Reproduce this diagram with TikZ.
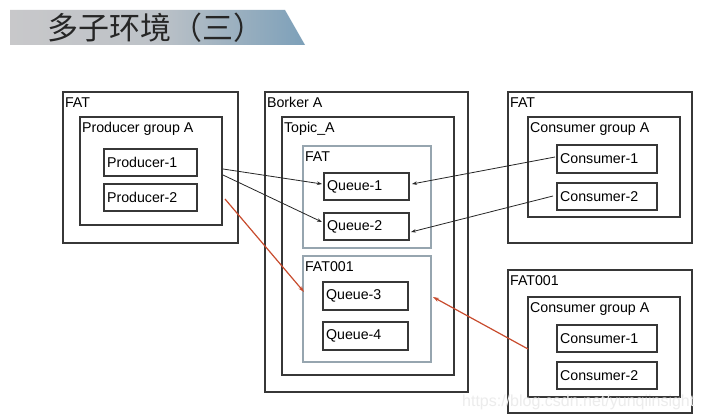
\documentclass[tikz,border=0pt]{standalone}
\usepackage{fontspec}
\setmainfont{Liberation Sans}
\newfontfamily\cjk{Noto Sans CJK SC}
\usetikzlibrary{fit,arrows.meta,calc}
\definecolor{boxc}{RGB}{55,55,55}
\definecolor{innerc}{RGB}{150,165,175}
\definecolor{redc}{RGB}{200,75,45}
\definecolor{bannerL}{RGB}{200,200,202}
\definecolor{bannerR}{RGB}{125,160,185}
\definecolor{wmark}{RGB}{236,236,236}
\tikzset{
  cont/.style={draw=boxc, line width=1.2pt, inner sep=0pt},
  inner/.style={draw=innerc, line width=1.2pt, inner sep=0pt},
  leaf/.style={draw=boxc, line width=1.2pt, inner sep=0pt},
  ttl/.style={anchor=north west, inner xsep=2.5pt, inner ysep=0pt, yshift=-6pt, font=\fontsize{14.2}{15}\selectfont},
  lt/.style={anchor=west, inner sep=3.5pt, font=\fontsize{14.2}{15}\selectfont},
  arr/.style={draw=black!85, line width=0.8pt, -{Stealth[length=5pt,width=3.5pt]}},
  rarr/.style={draw=redc, line width=1.2pt, -{Stealth[length=6pt,width=4pt]}}
}
\begin{document}
\begin{tikzpicture}[x=1pt,y=-1pt]
\useasboundingbox (0,0) rectangle (701,420);
\fill[white] (0,0) rectangle (701,420);
% banner
\shade[left color=bannerL, right color=bannerR, middle color=bannerL!85!bannerR] (10,10) -- (285,10) -- (305,45) -- (10,45) -- cycle;
\node[font=\cjk\fontsize{31}{33}\selectfont, text=black!85] (title) at (156,28) {多子环境（三）};
% left FAT
\node[cont, fit={(63,92) (238,243)}] (fatL) {};
\node[ttl] at (fatL.north west) {FAT};
\node[cont, fit={(80,117) (222,225)}] (pg) {};
\node[ttl] at (pg.north west) {Producer group A};
\node[leaf, fit={(104,149) (197,176)}] (p1) {};
\node[lt] at (p1.west) {Producer-1};
\node[leaf, fit={(104,184) (197,211)}] (p2) {};
\node[lt] at (p2.west) {Producer-2};
% Broker
\node[cont, fit={(265,92) (468,392)}] (brk) {};
\node[ttl] at (brk.north west) {Borker A};
\node[cont, fit={(282,117) (454,375)}] (topic) {};
\node[ttl] at (topic.north west) {Topic\_A};
\node[inner, fit={(303,146) (431,248)}] (fatQ) {};
\node[ttl] at (fatQ.north west) {FAT};
\node[leaf, fit={(324,173) (409,200)}] (q1) {};
\node[lt] at (q1.west) {Queue-1};
\node[leaf, fit={(324,213) (409,240)}] (q2) {};
\node[lt] at (q2.west) {Queue-2};
\node[inner, fit={(303,256) (431,362)}] (fatQB) {};
\node[ttl] at (fatQB.north west) {FAT001};
\node[leaf, fit={(323,282) (408,310)}] (q3) {};
\node[lt] at (q3.west) {Queue-3};
\node[leaf, fit={(323,322) (408,350)}] (q4) {};
\node[lt] at (q4.west) {Queue-4};
% right FAT
\node[cont, fit={(508,92) (692,243)}] (fatR) {};
\node[ttl] at (fatR.north west) {FAT};
\node[cont, fit={(528,117) (680,217)}] (cg) {};
\node[ttl] at (cg.north west) {Consumer group A};
\node[leaf, fit={(557,145) (657,173)}] (c1) {};
\node[lt] at (c1.west) {Consumer-1};
\node[leaf, fit={(557,183) (657,210)}] (c2) {};
\node[lt] at (c2.west) {Consumer-2};
% right FAT001
\node[cont, fit={(508,270) (692,413)}] (fatR2) {};
\node[ttl] at (fatR2.north west) {FAT001};
\node[cont, fit={(528,297) (680,397)}] (cgB) {};
\node[ttl] at (cgB.north west) {Consumer group A};
\node[leaf, fit={(557,325) (657,352)}] (cb1) {};
\node[lt] at (cb1.west) {Consumer-1};
\node[leaf, fit={(557,362) (657,389)}] (cb2) {};
\node[lt] at (cb2.west) {Consumer-2};
% watermark
\node[text=wmark, font=\fontsize{16}{18}\selectfont, anchor=west, inner sep=0pt] (wm) at (462,402) {https://blog.csdn.net/yunqiinsight};
% connectors
\coordinate (ps1) at (223,169);
\coordinate (ps2) at (223,175);
\coordinate (ps3) at (225,199);
\coordinate (q1in) at (322,184);
\coordinate (q2in) at (322,222);
\coordinate (qBin) at (304,292);
\coordinate (q1r) at (412,184);
\coordinate (q2r) at (411,232);
\coordinate (qBr) at (433,297);
\coordinate (c1o) at (555,157);
\coordinate (c2o) at (553,196);
\coordinate (cBo) at (528,349);
\draw[arr] (ps1) -- (q1in);
\draw[arr] (ps2) -- (q2in);
\draw[arr] (c1o) -- (q1r);
\draw[arr] (c2o) -- (q2r);
\draw[rarr] (ps3) -- (qBin);
\draw[rarr] (cBo) -- (qBr);
\end{tikzpicture}
\end{document}
